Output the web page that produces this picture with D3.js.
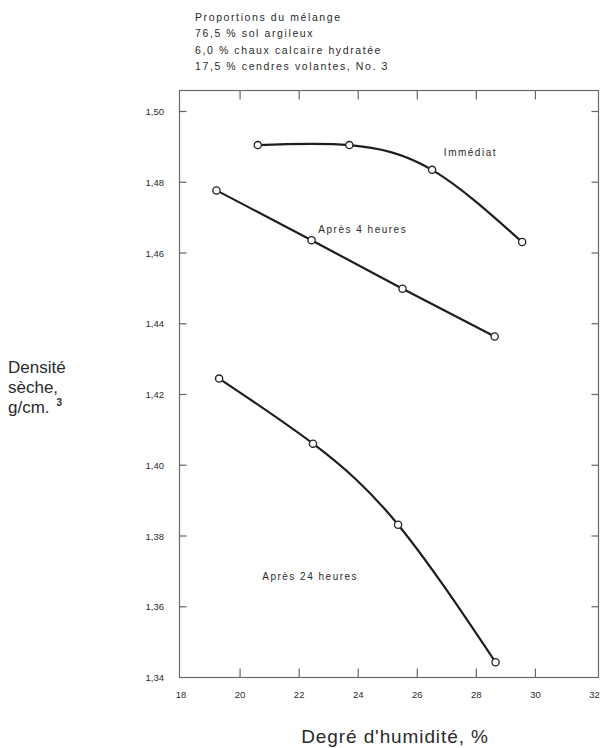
<!DOCTYPE html>
<html>
<head>
<meta charset="utf-8">
<script src="https://cdn.jsdelivr.net/npm/d3@7"></script>
<style>
  body { margin: 0; background: #fff; }
  svg text { font-family: "Liberation Sans", Arial, sans-serif; fill: #2a2a2a; }
</style>
</head>
<body>
<div id="chart"></div>
<script>
// data
const xTicks = [20, 22, 24, 26, 28, 30];
const xTickLabels = [18, 20, 22, 24, 26, 28, 30, 32];
const yTicks = [1.36, 1.38, 1.40, 1.42, 1.44, 1.46, 1.48, 1.50];
const yTickLabels = [1.34, 1.36, 1.38, 1.40, 1.42, 1.44, 1.46, 1.48, 1.50];

const immediatX = [20.6, 23.7, 26.5, 29.55];
const immediatY = [1.4905, 1.4905, 1.4835, 1.4631];
const quatreX = [19.2, 22.42, 25.5, 28.62];
const quatreY = [1.4777, 1.4636, 1.4499, 1.4364];
const vingtQuatreX = [19.29, 22.47, 25.35, 28.65];
const vingtQuatreY = [1.4245, 1.4061, 1.3832, 1.3443];

const headerLines = [
  "Proportions du mélange",
  "76,5 % sol argileux",
  "6,0 % chaux calcaire hydratée",
  "17,5 % cendres volantes, No. 3"
];

const width = 605, height = 748;

const svg = d3.select("#chart").append("svg")
    .attr("width", width)
    .attr("height", height);

// scales
const x = d3.scaleLinear().domain([18, 32]).range([181, 594.5]);
const y = d3.scaleLinear().domain([1.34, 1.50]).range([677.5, 111.5]);

const frameLeft = 179.5, frameRight = 598.5, frameTop = 90.5, frameBottom = 677.5;

// frame
svg.append("rect")
    .attr("x", frameLeft)
    .attr("y", frameTop)
    .attr("width", frameRight - frameLeft)
    .attr("height", frameBottom - frameTop)
    .attr("fill", "none")
    .attr("stroke", "#6a6a6a")
    .attr("stroke-width", 1.2);

// inward ticks, all four sides
const tickLen = 7;
svg.append("g").selectAll("line.yl")
  .data(yTicks).join("line")
    .attr("x1", frameLeft).attr("x2", frameLeft + tickLen)
    .attr("y1", d => y(d)).attr("y2", d => y(d))
    .attr("stroke", "#666").attr("stroke-width", 1.2);

svg.append("g").selectAll("line.yr")
  .data(yTicks).join("line")
    .attr("x1", frameRight - tickLen).attr("x2", frameRight)
    .attr("y1", d => y(d)).attr("y2", d => y(d))
    .attr("stroke", "#666").attr("stroke-width", 1.2);

svg.append("g").selectAll("line.xb")
  .data(xTicks).join("line")
    .attr("x1", d => x(d)).attr("x2", d => x(d))
    .attr("y1", frameBottom - 9).attr("y2", frameBottom)
    .attr("stroke", "#666").attr("stroke-width", 1.2);

svg.append("g").selectAll("line.xt")
  .data(xTicks).join("line")
    .attr("x1", d => x(d)).attr("x2", d => x(d))
    .attr("y1", frameTop).attr("y2", frameTop + 9)
    .attr("stroke", "#666").attr("stroke-width", 1.2);

// tick labels
const fmt = d => d3.format(".2f")(d).replace(".", ",");
svg.append("g").selectAll("text")
  .data(yTickLabels).join("text")
    .attr("x", 164)
    .attr("y", d => y(d) + 3.5)
    .attr("text-anchor", "end")
    .attr("font-size", 9.5)
    .attr("fill", "#555")
    .text(fmt);

svg.append("g").selectAll("text")
  .data(xTickLabels).join("text")
    .attr("x", d => x(d))
    .attr("y", 698)
    .attr("text-anchor", "middle")
    .attr("font-size", 9.5)
    .attr("fill", "#555")
    .text(d => d);

// header
svg.append("g").selectAll("text")
  .data(headerLines).join("text")
    .attr("x", 195)
    .attr("y", (d, i) => 21 + i * 16.3)
    .attr("font-size", 10.5)
    .attr("letter-spacing", 1.6)
    .text(d => d);

// axis titles
svg.append("text")
    .attr("x", 395)
    .attr("y", 743)
    .attr("text-anchor", "middle")
    .attr("font-size", 19)
    .attr("letter-spacing", 0.9)
    .text("Degré d'humidité, %");

const yTitle = ["Densité", "sèche,", "g/cm."];
svg.append("g").selectAll("text")
  .data(yTitle).join("text")
    .attr("x", 8)
    .attr("y", (d, i) => 373 + i * 20)
    .attr("font-size", 17)
    .text(d => d);
svg.append("text")
    .attr("x", 56.5)
    .attr("y", 406)
    .attr("font-size", 10)
    .attr("font-weight", "bold")
    .text("3");

// curves
const series = [
  { xs: immediatX, ys: immediatY, curve: d3.curveNatural },
  { xs: quatreX, ys: quatreY, curve: d3.curveLinear },
  { xs: vingtQuatreX, ys: vingtQuatreY, curve: d3.curveNatural }
];

const line = d3.line()
    .x(d => x(d[0]))
    .y(d => y(d[1]));

series.forEach(s => {
  const pts = s.xs.map((v, i) => [v, s.ys[i]]);
  svg.append("path")
      .datum(pts)
      .attr("d", line.curve(s.curve))
      .attr("fill", "none")
      .attr("stroke", "#1e1e1e")
      .attr("stroke-width", 2.2);
  svg.append("g").selectAll("circle")
    .data(pts).join("circle")
      .attr("cx", d => x(d[0]))
      .attr("cy", d => y(d[1]))
      .attr("r", 3.6)
      .attr("fill", "#fff")
      .attr("stroke", "#222")
      .attr("stroke-width", 1.3);
});

// curve labels
const curveLabels = [
  { text: "Immédiat", xv: 26.9, yv: 1.4873 },
  { text: "Après 4 heures", xv: 22.65, yv: 1.4657 },
  { text: "Après 24 heures", xv: 20.75, yv: 1.3676 }
];
svg.append("g").selectAll("text")
  .data(curveLabels).join("text")
    .attr("x", d => x(d.xv))
    .attr("y", d => y(d.yv))
    .attr("font-size", 10)
    .attr("letter-spacing", 1.5)
    .text(d => d.text);
</script>
</body>
</html>
